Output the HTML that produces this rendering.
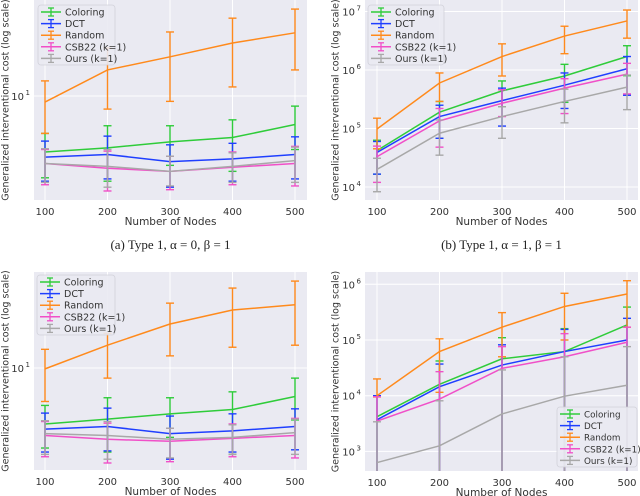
<!DOCTYPE html>
<html><head><meta charset="utf-8"><style>
body{margin:0;background:#fff;}
svg{display:block;font-family:"DejaVu Sans","Liberation Sans",sans-serif;}
.cap{font-family:"Liberation Serif",serif;font-size:13px;}
</style></head><body>
<svg id="chart" width="640" height="496" viewBox="0 0 640 496" xmlns="http://www.w3.org/2000/svg"></svg>
<script>
const nodes=[100,200,300,400,500];
const seriesNames=["Coloring","DCT","Random","CSB22 (k=1)","Ours (k=1)"];
// Panel A
const A_coloring=[5.25,5.5,5.9,6.2,7.2], A_coloring_lo=[3.9,3.75,4.5,4.2,5.4], A_coloring_hi=[6.5,7.1,7.1,7.6,8.9];
const A_dct=[4.95,5.1,4.7,4.85,5.1], A_dct_lo=[3.75,3.85,3.5,3.75,3.85], A_dct_hi=[5.95,6.3,5.7,5.8,6.25];
const A_random=[9.33,13.5,15.7,18.4,20.7], A_random_lo=[6.5,8.6,9.4,11.1,13.5], A_random_hi=[11.9,17.4,20.9,24.5,27.2];
const A_csb=[4.6,4.35,4.2,4.4,4.6], A_csb_lo=[3.6,3.35,3.4,3.6,3.55], A_csb_hi=[5.4,5.3,5.0,5.25,5.6];
const A_ours=[4.6,4.45,4.2,4.45,4.75], A_ours_lo=[3.7,3.5,3.55,3.7,3.7], A_ours_hi=[5.45,5.4,5.0,5.2,5.55];
// Panel B
const B_coloring=[4.2e4,1.9e5,4.4e5,7.9e5,1.7e6], B_coloring_lo=[1.66e4,6.8e4,2.35e5,2.8e5,8e5], B_coloring_hi=[6.3e4,2.9e5,6.5e5,1.25e6,2.6e6];
const B_dct=[3.9e4,1.6e5,3.0e5,5.5e5,1.05e6], B_dct_lo=[1.66e4,6.8e4,1.1e5,2.2e5,3.7e5], B_dct_hi=[6e4,2.5e5,4.9e5,8.9e5,1.7e6];
const B_random=[9.8e4,6e5,1.7e6,3.8e6,6.9e6], B_random_lo=[4.5e4,2.9e5,7.9e5,1.9e6,3.5e6], B_random_hi=[1.5e5,8.9e5,2.8e6,5.6e6,1.06e7];
const B_csb=[3.3e4,1.35e5,2.7e5,4.9e5,8.5e5], B_csb_lo=[1.2e4,4.8e4,1.6e5,1.8e5,3.9e5], B_csb_hi=[5e4,2.2e5,4.6e5,7.1e5,1.3e6];
const B_ours=[2e4,8.3e4,1.6e5,2.9e5,5.1e5], B_ours_lo=[8.3e3,3.5e4,6.8e4,1.25e5,2.1e5], B_ours_hi=[3.1e4,1.4e5,2.35e5,4.7e5,8.2e5];
// Panel C
const C_coloring=[5.25,5.55,5.9,6.2,7.2], C_coloring_lo=[3.98,3.8,4.5,3.7,5.5], C_coloring_hi=[6.5,7.1,7.1,7.6,8.9];
const C_dct=[4.95,5.1,4.7,4.85,5.1], C_dct_lo=[3.8,3.85,3.5,3.8,3.9], C_dct_hi=[5.95,6.3,5.75,5.9,6.25];
const C_random=[9.9,13.0,16.6,19.5,20.7], C_random_lo=[6.8,8.9,11.5,12.7,13.0], C_random_hi=[12.4,14.9,21.1,25.1,27.2];
const C_csb=[4.6,4.4,4.3,4.45,4.6], C_csb_lo=[3.6,3.35,3.4,3.6,3.55], C_csb_hi=[5.4,5.3,5.0,5.25,5.6];
const C_ours=[4.7,4.6,4.4,4.5,4.75], C_ours_lo=[3.7,3.5,3.55,3.7,3.7], C_ours_hi=[5.45,5.4,5.0,5.2,5.55];
// Panel D
const D_coloring=[4.2e3,1.6e4,4.6e4,6.2e4,1.86e5], D_coloring_lo=[100,100,100,100,100], D_coloring_hi=[1e4,4.2e4,1.1e5,1.6e5,3.9e5];
const D_dct=[3.7e3,1.45e4,3.55e4,6.2e4,1e5], D_dct_lo=[100,100,100,100,100], D_dct_hi=[1e4,3.7e4,8.2e4,1.55e5,2.45e5];
const D_random=[1.0e4,6.2e4,1.7e5,4e5,6.7e5], D_random_lo=[9.5e3,1.15e4,5e4,1e5,1.7e5], D_random_hi=[2e4,1.05e5,3.1e5,6.9e5,1.16e6];
const D_csb=[3.5e3,8.7e3,3.1e4,5e4,9.1e4], D_csb_lo=[100,100,100,100,100], D_csb_hi=[9.6e3,2.7e4,7.6e4,1.3e5,1.7e5];
const D_ours=[630,1260,4700,9800,1.54e4], D_ours_lo=[100,100,100,100,100], D_ours_hi=[3.4e3,8.1e3,2.9e4,5e4,7.6e4];

const colors=["#2fcc3a","#1f3fff","#ff8a1c","#f050c8","#a8a8a8"];
const NS="http://www.w3.org/2000/svg";
const svg=document.getElementById('chart');
function mk(tag,attrs,parent){const e=document.createElementNS(NS,tag);for(const k in attrs)e.setAttribute(k,attrs[k]);(parent||svg).appendChild(e);return e;}

const panels=[
 {id:'a',rx0:34,rx1:307,ry0:0,ry1:200,x100:45,x500:295,refLog:1,refY:96,dec:200,ticks:[1],ylx:6,data:[[A_coloring,A_coloring_lo,A_coloring_hi],[A_dct,A_dct_lo,A_dct_hi],[A_random,A_random_lo,A_random_hi],[A_csb,A_csb_lo,A_csb_hi],[A_ours,A_ours_lo,A_ours_hi]],leg:[38,5],lw:77,lf:9.5,cap:"(a) Type 1, α = 0, β = 1"},
 {id:'b',rx0:365,rx1:638,ry0:0,ry1:200,x100:377,x500:627,refLog:7,refY:11.5,dec:58.5,ticks:[4,5,6,7],ylx:336,data:[[B_coloring,B_coloring_lo,B_coloring_hi],[B_dct,B_dct_lo,B_dct_hi],[B_random,B_random_lo,B_random_hi],[B_csb,B_csb_lo,B_csb_hi],[B_ours,B_ours_lo,B_ours_hi]],leg:[368,5],lw:76,lf:9.5,cap:"(b) Type 1, α = 1, β = 1"},
 {id:'c',rx0:34,rx1:307,ry0:272,ry1:470,x100:45,x500:295,refLog:1,refY:368,dec:200,ticks:[1],ylx:6,data:[[C_coloring,C_coloring_lo,C_coloring_hi],[C_dct,C_dct_lo,C_dct_hi],[C_random,C_random_lo,C_random_hi],[C_csb,C_csb_lo,C_csb_hi],[C_ours,C_ours_lo,C_ours_hi]],leg:[37,275],lw:78,lf:9.5},
 {id:'d',rx0:365,rx1:638,ry0:272,ry1:471,x100:377,x500:627,refLog:6,refY:284.3,dec:55.7,ticks:[3,4,5,6],ylx:336,data:[[D_coloring,D_coloring_lo,D_coloring_hi],[D_dct,D_dct_lo,D_dct_hi],[D_random,D_random_lo,D_random_hi],[D_csb,D_csb_lo,D_csb_hi],[D_ours,D_ours_lo,D_ours_hi]],leg:[557,407],lw:80,lf:8.8}
];

panels.forEach(p=>{
 const g=mk('g',{});
 
 
 const xs=v=>p.x100+(v-100)*(p.x500-p.x100)/400;
 const ys=v=>p.refY-(Math.log10(v)-p.refLog)*p.dec;
 const cid='clip'+p.id;
 const cp=mk('clipPath',{id:cid},g);mk('rect',{x:p.rx0,y:p.ry0,width:p.rx1-p.rx0,height:p.ry1-p.ry0},cp);
 const bg=mk('rect',{x:p.rx0,y:p.ry0,width:p.rx1-p.rx0,height:p.ry1-p.ry0,fill:'#eaeaf2'},g);
 
 
 nodes.forEach(n=>{
  const l=mk('line',{x1:xs(n),x2:xs(n),y1:p.ry0,y2:p.ry1,stroke:'#fff','stroke-width':1},g);
  
  
  const t=mk('text',{x:xs(n),y:p.ry1+15,'font-size':10,'text-anchor':'middle',fill:'#333'},g);
  t.textContent=n;
  
  
 });
 p.ticks.forEach(k=>{
  const y=ys(Math.pow(10,k));
  const l=mk('line',{x1:p.rx0,x2:p.rx1,y1:y,y2:y,stroke:'#fff','stroke-width':1},g);
  
  
  const t=mk('text',{x:p.rx0-10,y:y+4,'font-size':10,'text-anchor':'end',fill:'#333'},g);
  t.textContent='10';
  
  
  const s=mk('text',{x:p.rx0-4,y:y-1,'font-size':7,'text-anchor':'end',fill:'#333'},g);
  s.textContent=k;
  
  
 });
 const xl=mk('text',{x:(p.rx0+p.rx1)/2,y:p.ry1+25,'font-size':10.5,'text-anchor':'middle',fill:'#333'},g);
 xl.textContent='Number of Nodes';
 
 
 const cy=(p.ry0+p.ry1)/2;
 const yl=mk('text',{x:p.ylx,y:cy,'font-size':9.5,'text-anchor':'middle',fill:'#333',transform:`rotate(-90 ${p.ylx} ${cy})`,'dominant-baseline':'middle'},g);
 yl.textContent='Generalized interventional cost (log scale)';
 
 
 const plot=mk('g',{'clip-path':`url(#${cid})`},g);
 p.data.forEach((d,si)=>{
  const [m,lo,hi]=d;const c=colors[si];
  const sg=mk('g',{},plot);
  
  
  nodes.forEach((n,i)=>{
   const x=xs(n);
   const eb=mk('line',{x1:x,x2:x,y1:ys(lo[i]),y2:ys(hi[i]),stroke:c,'stroke-width':1.4},sg);
   
   
   [lo[i],hi[i]].forEach(v=>{
    const cap=mk('line',{x1:x-4,x2:x+4,y1:ys(v),y2:ys(v),stroke:c,'stroke-width':1.4},sg);
    
    
   });
  });
  const ln=mk('polyline',{points:nodes.map((n,i)=>xs(n)+','+ys(m[i])).join(' '),fill:'none',stroke:c,'stroke-width':1.5},sg);
  
  
 });
 const [lx,ly]=p.leg;
 const lg=mk('g',{},g);
 
 
 mk('rect',{x:lx,y:ly,width:p.lw,height:60,rx:3,fill:'#eaeaf2',stroke:'#d0d0d8','stroke-width':0.8,opacity:0.9},lg);
 seriesNames.forEach((nm,i)=>{
  const y=ly+7+i*11.6;const c=colors[i];
  const e=mk('g',{},lg);
  
  
  mk('line',{x1:lx+3,x2:lx+23,y1:y,y2:y,stroke:c,'stroke-width':1.5},e);
  mk('line',{x1:lx+13,x2:lx+13,y1:y-4,y2:y+4,stroke:c,'stroke-width':1.3},e);
  mk('line',{x1:lx+10,x2:lx+16,y1:y-4,y2:y-4,stroke:c,'stroke-width':1.3},e);
  mk('line',{x1:lx+10,x2:lx+16,y1:y+4,y2:y+4,stroke:c,'stroke-width':1.3},e);
  const t=mk('text',{x:lx+27,y:y+3.5,'font-size':p.lf,fill:'#333'},e);
  t.textContent=nm;
 });
 if(p.cap){
  const t=mk('text',{x:(p.rx0+p.rx1)/2,y:249,'text-anchor':'middle',class:'cap',fill:'#222'},g);
  t.textContent=p.cap;
  
  
 }
});
</script>
</body></html>
